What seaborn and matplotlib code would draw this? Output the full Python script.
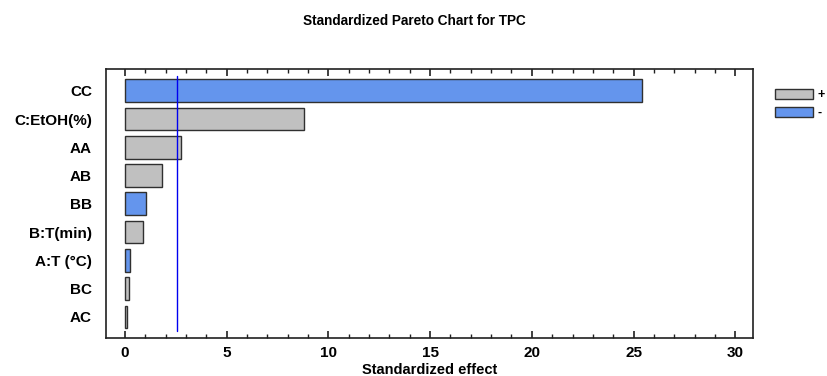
import matplotlib
matplotlib.use("Agg")
import matplotlib.pyplot as plt
from matplotlib.patches import Patch
from matplotlib.ticker import MultipleLocator
import seaborn as sns
import pandas as pd

# Effects sorted by magnitude, with the sign of each estimated effect
terms = ["CC", "C:EtOH(%)", "AA", "AB", "BB", "B:T(min)", "A:T (°C)", "BC", "AC"]
effects = [25.4, 8.8, 2.75, 1.82, 1.03, 0.9, 0.24, 0.22, 0.1]
signs = ["-", "+", "+", "+", "-", "+", "-", "+", "+"]
critical_t = 2.57

sign_colors = {"+": "#C0C0C0", "-": "#6495ED"}

df = pd.DataFrame({"term": terms, "effect": effects, "sign": signs})

sns.set_theme(style="white")
plt.rcParams["font.family"] = ["Liberation Sans", "DejaVu Sans"]
plt.rcParams["font.weight"] = "bold"
plt.rcParams["text.color"] = "black"
plt.rcParams["xtick.color"] = "black"
plt.rcParams["ytick.color"] = "black"
plt.rcParams["axes.labelcolor"] = "black"

fig = plt.figure(figsize=(8.27, 3.76), dpi=100)
ax = fig.add_axes([106 / 827, 1 - 338 / 376, (753 - 106) / 827, (338 - 69) / 376])

sns.barplot(data=df, x="effect", y="term", hue="sign", order=terms,
            hue_order=["+", "-"], palette=sign_colors, dodge=False,
            saturation=1, width=0.8, edgecolor="#303030", linewidth=1.0,
            legend=False, ax=ax)

# Significance threshold
ax.plot([critical_t, critical_t], [-0.52, 8.5], color="#0000F0", linewidth=1.0)

ax.set_xlim(-0.93, 30.87)
ax.set_ylim(8.75, -0.77)
ax.xaxis.set_major_locator(MultipleLocator(5))
ax.xaxis.set_minor_locator(MultipleLocator(1))
ax.tick_params(axis="x", which="major", direction="in", length=5, width=1.2,
               top=True, bottom=True, labelsize=11, pad=6, color="#202020")
ax.tick_params(axis="x", which="minor", direction="in", length=3, width=1.0,
               top=True, bottom=True, color="#202020")
ax.tick_params(axis="y", left=False, length=0, labelsize=11, pad=10)
for lbl in ax.get_xticklabels() + ax.get_yticklabels():
    lbl.set_fontweight("bold")
ax.set_ylabel("")
ax.set_xlabel("Standardized effect", fontsize=10.5, fontweight="bold", labelpad=2)
for sp in ax.spines.values():
    sp.set_visible(True)
    sp.set_color("#202020")
    sp.set_linewidth(1.2)

fig.text(414 / 827, 1 - 21 / 376, "Standardized Pareto Chart for TPC",
         ha="center", va="center", fontsize=9.8, fontweight="bold")

handles = [Patch(facecolor=sign_colors[s], edgecolor="#303030", linewidth=1.0)
           for s in ["+", "-"]]
fig.legend(handles, ["+", "-"], loc="upper left",
           bbox_to_anchor=(764 / 827, 1 - 78 / 376), frameon=False,
           handlelength=3.0, handleheight=0.8, handletextpad=0.4,
           labelspacing=0.45, fontsize=9)

fig.savefig("out.png", dpi=100)
